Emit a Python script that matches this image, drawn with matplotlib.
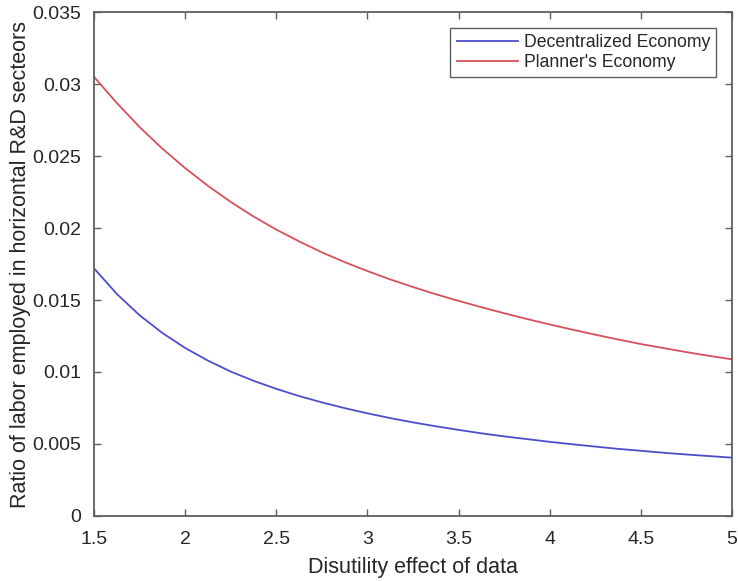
import matplotlib
matplotlib.use("Agg")
import matplotlib.pyplot as plt

# Data
disutility = [1.5, 1.625, 1.75, 1.875, 2.0, 2.125, 2.25, 2.375, 2.5, 2.625, 2.75, 2.875,
              3.0, 3.125, 3.25, 3.375, 3.5, 3.625, 3.75, 3.875, 4.0, 4.125, 4.25, 4.375,
              4.5, 4.625, 4.75, 4.875, 5.0]
decentralized = [0.01720, 0.01542, 0.01394, 0.01271, 0.01167, 0.01079, 0.01003, 0.00939,
                 0.00883, 0.00833, 0.00789, 0.00749, 0.00713, 0.00680, 0.00650, 0.00623,
                 0.00598, 0.00574, 0.00553, 0.00534, 0.00515, 0.00498, 0.00482, 0.00466,
                 0.00453, 0.00439, 0.00427, 0.00416, 0.00405]
planner = [0.03050, 0.02868, 0.02701, 0.02551, 0.02416, 0.02293, 0.02181, 0.02080,
           0.01989, 0.01907, 0.01831, 0.01763, 0.01701, 0.01643, 0.01590, 0.01540,
           0.01494, 0.01450, 0.01408, 0.01368, 0.01330, 0.01294, 0.01259, 0.01226,
           0.01194, 0.01166, 0.01138, 0.01112, 0.01088]
series_labels = ["Decentralized Economy", "Planner's Economy"]
x_ticks = [1.5, 2, 2.5, 3, 3.5, 4, 4.5, 5]
x_tick_labels = ["1.5", "2", "2.5", "3", "3.5", "4", "4.5", "5"]
y_ticks = [0, 0.005, 0.01, 0.015, 0.02, 0.025, 0.03, 0.035]
y_tick_labels = ["0", "0.005", "0.01", "0.015", "0.02", "0.025", "0.03", "0.035"]

plt.rcParams['font.family'] = ['Liberation Sans', 'DejaVu Sans']
text_color = '#262626'
frame_color = '#5f5f5f'

fig = plt.figure(figsize=(7.38, 5.81), dpi=100)
ax = fig.add_axes([0.1274, 0.1119, 0.8645, 0.8674])

ax.plot(disutility, decentralized, color='#4d4dcc', lw=1.3, label=series_labels[0])
ax.plot(disutility, planner, color='#d6505c', lw=1.3, label=series_labels[1])

ax.set_xlim(1.5, 5)
ax.set_ylim(0, 0.035)
ax.set_xticks(x_ticks)
ax.set_xticklabels(x_tick_labels)
ax.set_yticks(y_ticks)
ax.set_yticklabels(y_tick_labels)
ax.tick_params(direction='in', top=True, right=True, length=5, width=1,
               color=frame_color, labelcolor=text_color, labelsize=14)
ax.tick_params(axis='x', pad=11)
ax.tick_params(axis='y', pad=9)
for s in ax.spines.values():
    s.set_color(frame_color)
    s.set_linewidth(1.3)

ax.set_xlabel("Disutility effect of data", fontsize=15.5, color=text_color, labelpad=6)
ax.set_ylabel("Ratio of labor employed in horizontal R&D secteors", fontsize=15.5,
              color=text_color, labelpad=1)

leg = ax.legend(loc='upper right', fontsize=12.7, handlelength=3.5, handletextpad=0.3,
                borderpad=0.35, labelspacing=0.15, fancybox=False, framealpha=1,
                borderaxespad=0.9)
leg.get_frame().set_edgecolor(frame_color)
leg.get_frame().set_linewidth(1.0)
for t in leg.get_texts():
    t.set_color(text_color)

fig.savefig("out.png", dpi=100)
